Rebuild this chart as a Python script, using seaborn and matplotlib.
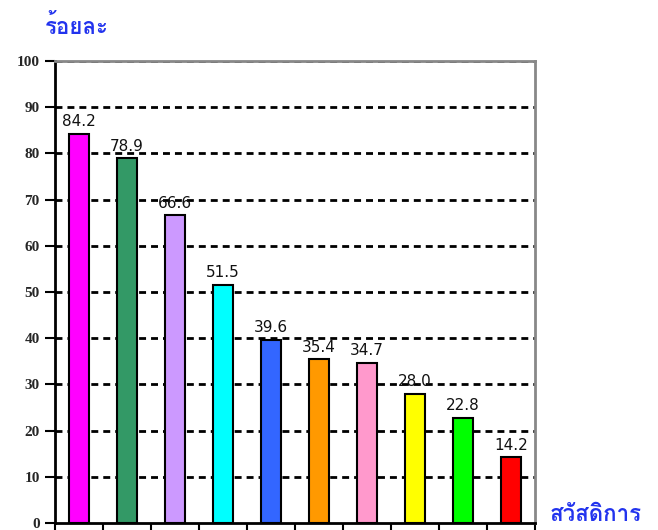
import matplotlib
matplotlib.use("Agg")
import matplotlib.pyplot as plt
import seaborn as sns
import pandas as pd

categories = ["c1", "c2", "c3", "c4", "c5", "c6", "c7", "c8", "c9", "c10"]
values = [84.2, 78.9, 66.6, 51.5, 39.6, 35.4, 34.7, 28.0, 22.8, 14.2]
colors = ["#FF00FF", "#339966", "#CC99FF", "#00FFFF", "#3366FF",
          "#FF9900", "#FF99CC", "#FFFF00", "#00FF00", "#FF0000"]
yticks = [0, 10, 20, 30, 40, 50, 60, 70, 80, 90, 100]

sns.set_style("white")
plt.rcParams['font.family'] = ['DejaVu Sans', 'Loma']

df = pd.DataFrame({"cat": categories, "val": values})

fig = plt.figure(figsize=(6.58, 5.30), dpi=100)
ax = fig.add_axes([55 / 658, 7 / 530, 480 / 658, 462 / 530])

sns.barplot(data=df, x="cat", y="val", hue="cat", palette=colors, dodge=False,
            legend=False, width=0.42, saturation=1, edgecolor="black",
            linewidth=1.5, ax=ax, zorder=3)

ax.set_ylim(0, 100)
ax.set_xlim(-0.5, len(categories) - 0.5)
ax.set_yticks(yticks)
ax.set_yticklabels([str(t) for t in yticks], family="Liberation Serif",
                   fontweight="bold", fontsize=11)
for t in yticks[1:]:
    ax.axhline(t, color="black", lw=2, ls=(0, (2.5, 1.8)), zorder=1)

ax.set_xticks([i - 0.5 for i in range(len(categories) + 1)])
ax.set_xticklabels([])
ax.tick_params(axis="x", direction="out", length=6, width=1.5, color="black", bottom=True)
ax.tick_params(axis="y", direction="out", length=7, width=1.5, color="black", left=True, pad=4)
ax.set_xlabel("")
ax.set_ylabel("")

for s in ["left", "bottom"]:
    ax.spines[s].set_color("black")
    ax.spines[s].set_linewidth(2)
for s in ["top", "right"]:
    ax.spines[s].set_color("#888888")
    ax.spines[s].set_linewidth(2)

for i, v in enumerate(values):
    ax.text(i, v + 1.0, f"{v:.1f}", ha="center", va="bottom", fontsize=11, color="#111111")

thai = ["Loma", "DejaVu Sans"]
fig.text(45 / 658, 1 - 26 / 530, "ร้อยละ", color="#2233EE", fontsize=16,
         fontweight="bold", ha="left", va="center", family=thai)
fig.text(550 / 658, 1 - 515 / 530, "สวัสดิการ", color="#2233EE", fontsize=16,
         fontweight="bold", ha="left", va="center", family=thai)

fig.savefig("out.png", dpi=100)
